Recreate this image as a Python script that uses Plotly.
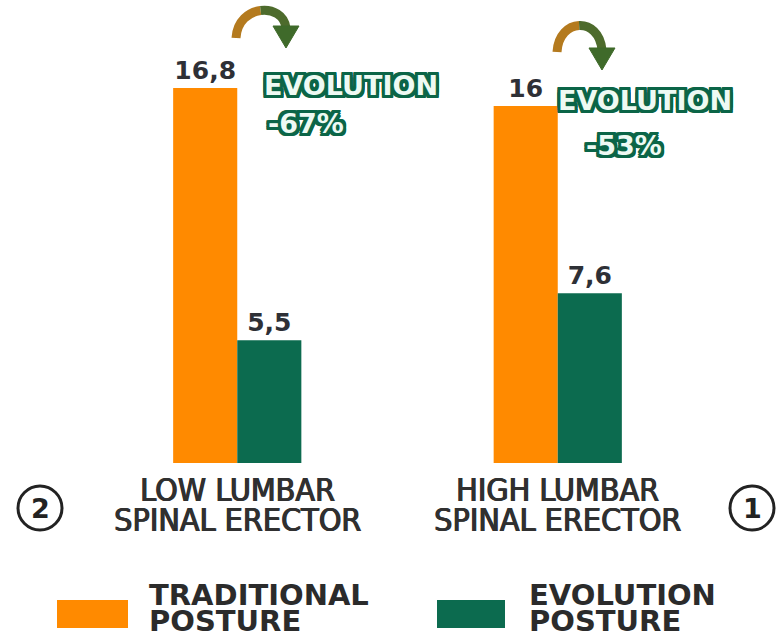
import plotly.graph_objects as go

# ---------------- data ----------------
categories = ["LOW LUMBAR<br>SPINAL ERECTOR", "HIGH LUMBAR<br>SPINAL ERECTOR"]
category_numbers = ["2", "1"]
series_names = ["TRADITIONAL<br>POSTURE", "EVOLUTION<br>POSTURE"]
traditional = [16.8, 16.0]
evolution = [5.5, 7.6]
evolution_pct = [-67, -53]
evolution_word = "EVOLUTION"

ORANGE = "#ff8a00"
GREEN = "#0c6b4f"
DARK = "#2e3036"

def fmt(v):
    return f"{v:g}".replace(".", ",")

# ---------------- geometry helpers (pixels -> paper) ----------------
W, H = 779, 637
ML, MR, MT, MB = 77, 61, 0, 174
PW, PH = W - ML - MR, H - MT - MB

def fx(px):
    return (px - ML) / PW

def fy(py):
    return (H - MB - py) / PH

fig = go.Figure()
fig.add_trace(go.Bar(
    x=categories, y=traditional, name=series_names[0],
    marker=dict(color=ORANGE, line=dict(width=0)),
    text=[fmt(v) for v in traditional], textposition="outside",
    textfont=dict(family="DejaVu Sans", size=25, color=DARK, weight="bold"),
    cliponaxis=False, constraintext="none", hoverinfo="skip",
))
fig.add_trace(go.Bar(
    x=categories, y=evolution, name=series_names[1],
    marker=dict(color=GREEN, line=dict(width=0)),
    text=[fmt(v) for v in evolution], textposition="outside",
    textfont=dict(family="DejaVu Sans", size=25, color=DARK, weight="bold"),
    cliponaxis=False, constraintext="none", hoverinfo="skip",
))

y_max = (H - MB) / 22.32

fig.update_layout(
    width=W, height=H,
    margin=dict(l=ML, r=MR, t=MT, b=MB, pad=0),
    paper_bgcolor="white", plot_bgcolor="white",
    barmode="group", bargap=0.6, bargroupgap=0,
    showlegend=False,
    xaxis=dict(showticklabels=False, showline=False, showgrid=False, zeroline=False,
               ticks="", range=[-0.5, 1.5]),
    yaxis=dict(visible=False, range=[0, y_max], showgrid=False, zeroline=False),
)

annotations = []
shapes = []

# category labels (two lines each, tight spacing); slight shadow thickens the strokes
cat_col = "#303030"
cat_font = dict(family="DejaVu Sans Condensed, Liberation Sans Narrow, sans-serif",
                size=32, color=cat_col,
                shadow=f"0.8px 0 0 {cat_col}, -0.4px 0 0 {cat_col}")
for cat in categories:
    lines = cat.split("<br>")
    for i, ln in enumerate(lines):
        annotations.append(dict(
            x=cat, xref="x", y=fy(490 + i * 30), yref="paper",
            text=ln, showarrow=False, xanchor="center", yanchor="middle",
            font=cat_font,
        ))

# circled numbers
circle_centers = [(40, 508), (752, 508)]
for (cx, cy), num in zip(circle_centers, category_numbers):
    r = 22
    shapes.append(dict(type="circle", xref="paper", yref="paper",
                       x0=fx(cx - r), x1=fx(cx + r), y0=fy(cy + r), y1=fy(cy - r),
                       line=dict(color="#222222", width=3), fillcolor="white"))
    annotations.append(dict(x=fx(cx), y=fy(cy + 1), xref="paper", yref="paper",
                            text=num, showarrow=False, xanchor="center", yanchor="middle",
                            font=dict(family="DejaVu Sans", size=27, color="#222222",
                                      weight="bold")))

# EVOLUTION outlined labels
oc = "#0b6547"
sh = ", ".join(f"{dx}px {dy}px 0 {oc}" for dx in (-3, -2, 0, 2, 3) for dy in (-3, -2, 0, 2, 3)
               if not (dx == 0 and dy == 0))
evo_font = dict(family="DejaVu Sans", size=27, color="#eefaf3", weight="bold", shadow=sh)
word_pos = [(262, 86), (556, 101)]
pct_pos = [(266, 123), (584, 146)]
for (wx, wy), (px_, py_), pct in zip(word_pos, pct_pos, evolution_pct):
    annotations.append(dict(x=fx(wx), y=fy(wy), xref="paper", yref="paper",
                            text=evolution_word, showarrow=False,
                            xanchor="left", yanchor="middle", font=evo_font))
    annotations.append(dict(x=fx(px_), y=fy(py_), xref="paper", yref="paper",
                            text=f"{pct}%", showarrow=False,
                            xanchor="left", yanchor="middle", font=evo_font))

# curved arrows (two-tone)
def lerp(a, b, t):
    return (a[0] + (b[0] - a[0]) * t, a[1] + (b[1] - a[1]) * t)

def cubic_split(p0, p1, p2, p3):
    a = lerp(p0, p1, .5); b = lerp(p1, p2, .5); c = lerp(p2, p3, .5)
    d = lerp(a, b, .5); e = lerp(b, c, .5); m = lerp(d, e, .5)
    return (p0, a, d, m), (m, e, c, p3)

def pp(p):
    return f"{fx(p[0]):.5f},{fy(p[1]):.5f}"

def add_arrow(p0, p1, p2, p3, head_w, head_len):
    first, second = cubic_split(p0, p1, p2, p3)
    for seg, col in ((first, "#b47a1e"), (second, "#4d6b2c")):
        path = f"M {pp(seg[0])} C {pp(seg[1])} {pp(seg[2])} {pp(seg[3])}"
        shapes.append(dict(type="path", xref="paper", yref="paper", path=path,
                           line=dict(color=col, width=9)))
    ex, ey = p3
    tri = (f"M {pp((ex - head_w / 2, ey - 2))} L {pp((ex + head_w / 2, ey - 2))} "
           f"L {pp((ex, ey + head_len))} Z")
    shapes.append(dict(type="path", xref="paper", yref="paper", path=tri,
                       fillcolor="#3f6a2a", line=dict(color="#3f6a2a", width=1)))

add_arrow((236, 38), (238, 4), (283, 2), (286, 28), 26, 20)
add_arrow((557, 52), (559, 18), (599, 16), (602, 50), 26, 20)

# manual legend
leg_font = dict(family="DejaVu Sans", size=29, color="#2b2b2b", weight="bold")
leg_boxes = [(57, 128), (437, 505)]
leg_text_x = [147, 527]
for (x0, x1), tx, name, col in zip(leg_boxes, leg_text_x, series_names, [ORANGE, GREEN]):
    shapes.append(dict(type="rect", xref="paper", yref="paper",
                       x0=fx(x0), x1=fx(x1), y0=fy(628), y1=fy(600),
                       fillcolor=col, line=dict(width=0)))
    for i, ln in enumerate(name.split("<br>")):
        annotations.append(dict(x=fx(tx), y=fy(595 + i * 26), xref="paper", yref="paper",
                                text=ln, showarrow=False, xanchor="left", yanchor="middle",
                                font=leg_font))

fig.update_layout(annotations=annotations, shapes=shapes)
fig.write_html(
    "out.html",
    config={"displayModeBar": False},
    post_script="document.body.style.margin='0';document.body.style.overflow='hidden';",
)
